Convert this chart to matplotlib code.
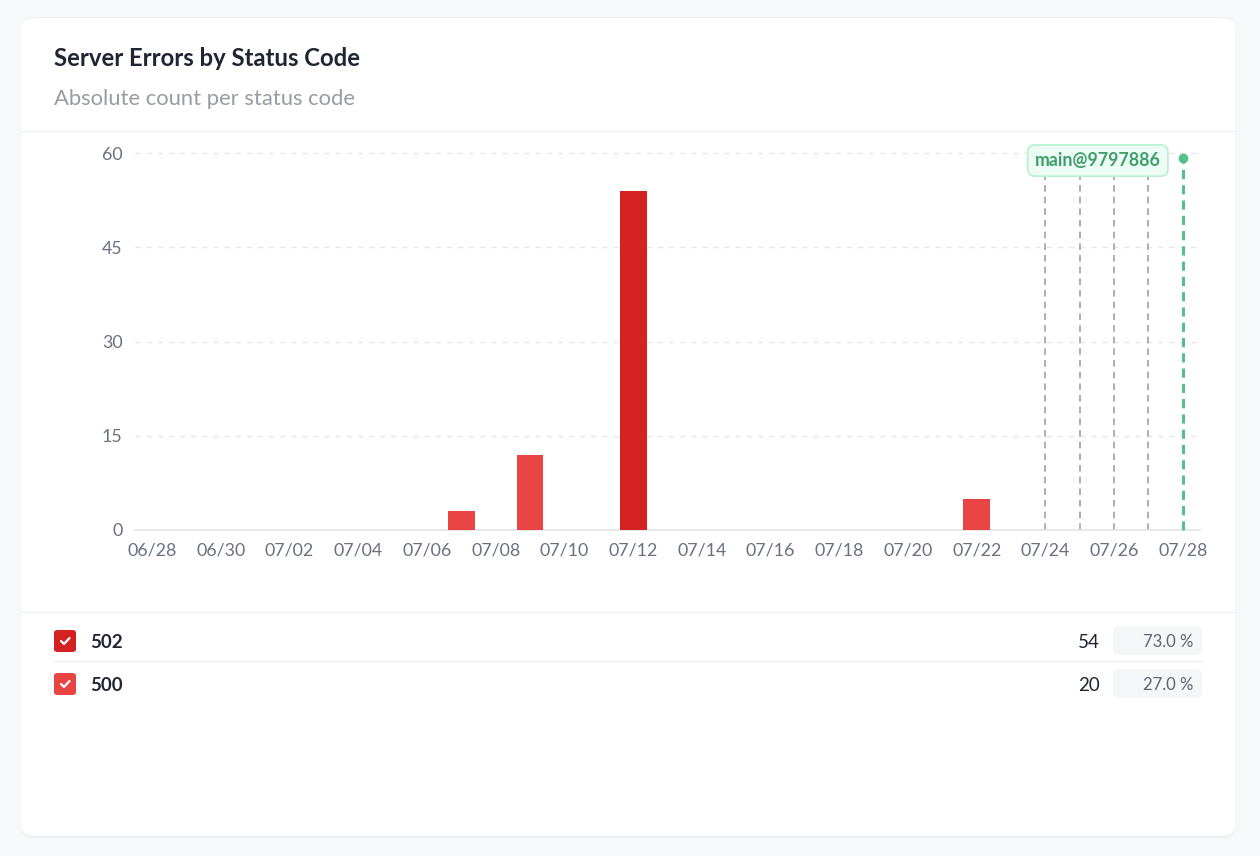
import numpy as np
import matplotlib
matplotlib.use("Agg")
import matplotlib.pyplot as plt
from matplotlib.patches import FancyBboxPatch
from matplotlib.lines import Line2D

plt.rcParams['font.family'] = ['Lato', 'DejaVu Sans']

# ------------------------------------------------------------
# data
# ------------------------------------------------------------
dias = ["06/28", "06/29", "06/30", "07/01", "07/02", "07/03", "07/04", "07/05",
        "07/06", "07/07", "07/08", "07/09", "07/10", "07/11", "07/12", "07/13",
        "07/14", "07/15", "07/16", "07/17", "07/18", "07/19", "07/20", "07/21",
        "07/22", "07/23", "07/24", "07/25", "07/26", "07/27", "07/28"]
erros_502 = [0, 0, 0, 0, 0, 0, 0, 0, 0, 0, 0, 0, 0, 0, 54, 0,
             0, 0, 0, 0, 0, 0, 0, 0, 0, 0, 0, 0, 0, 0, 0]
erros_500 = [0, 0, 0, 0, 0, 0, 0, 0, 0, 3, 0, 12, 0, 0, 0, 0,
             0, 0, 0, 0, 0, 0, 0, 0, 5, 0, 0, 0, 0, 0, 0]
deploys = ["07/24", "07/25", "07/26", "07/27"]
deploy_main = "07/28"
deploy_label = "main@9797886"
y_ticks = [0, 15, 30, 45, 60]

codigos = ["502", "500"]
totais = [sum(erros_502), sum(erros_500)]
cores = ["#d42222", "#e84444"]

W, H = 1260, 856


def fx(px):
    return px / W


def fy(py):
    return 1 - py / H


fig = plt.figure(figsize=(W / 100, H / 100), dpi=100)
fig.patch.set_facecolor("#f7f8fa")

# card + shadow
fig.patches.append(FancyBboxPatch((fx(22), fy(838)), fx(1213), 821 / H,
                                  boxstyle="round,pad=0,rounding_size=0.011",
                                  transform=fig.transFigure, fc="#eceef2", ec="none", zorder=0))
fig.patches.append(FancyBboxPatch((fx(22), fy(836)), fx(1213), 818 / H,
                                  boxstyle="round,pad=0,rounding_size=0.011",
                                  transform=fig.transFigure, fc="white", ec="none", zorder=0))

fig.text(fx(54), fy(59), "Server Errors by Status Code", fontsize=17.2, fontweight="bold",
         color="#1f2533", va="center", ha="left")
fig.text(fx(54), fy(99), "Absolute count per status code", fontsize=15.8,
         color="#9a9ca3", va="center", ha="left")

for y in [131, 612]:
    fig.add_artist(Line2D([fx(22), fx(1235)], [fy(y), fy(y)], color="#eceef1", lw=1,
                          transform=fig.transFigure))

# ------------------------------------------------------------
# chart
# ------------------------------------------------------------
ax = fig.add_axes([fx(135), fy(530), fx(1200 - 135), (530 - 153) / H])
ax.set_zorder(2)
ax.set_facecolor("none")
x = np.arange(len(dias))
ax.bar(x, erros_502, width=0.78, color=cores[0], zorder=3)
ax.bar(x, erros_500, width=0.78, color=cores[1], zorder=3, bottom=erros_502)

ax.set_xlim(-0.5, len(dias) - 0.5)
ax.set_ylim(0, 60)
ax.set_yticks(y_ticks)
ax.set_xticks(x[::2])
ax.set_xticklabels(dias[::2])
for s in ["top", "right", "left"]:
    ax.spines[s].set_visible(False)
ax.spines["bottom"].set_color("#e3e4ea")
ax.spines["bottom"].set_linewidth(1.2)
ax.tick_params(axis="both", length=0, labelsize=12.8, colors="#6b7080")
ax.tick_params(axis="y", pad=9)
ax.tick_params(axis="x", pad=9)
for t in y_ticks[1:]:
    ax.axhline(t, color="#e6e7eb", lw=1, ls=(0, (4, 4)), zorder=1, clip_on=False)

for d in deploys:
    ax.axvline(dias.index(d), color="#9ea1ab", lw=1.2, ls=(0, (4, 3)), zorder=2)
xm = dias.index(deploy_main)
ax.plot([xm, xm], [0, 59.2], color="#55c08a", lw=2.2, ls=(0, (3, 2)), zorder=4, clip_on=False)
ax.plot([xm], [59.2], "o", color="#55c08a", ms=6, zorder=5, clip_on=False)
ax.text(xm - 0.64, 58.8, deploy_label, ha="right", va="center", fontsize=12.8,
        fontweight="bold", color="#3f9e6c", zorder=6,
        bbox=dict(boxstyle="round,pad=0.4,rounding_size=0.4", fc="#edfdf5",
                  ec="#b6f0d2", lw=1.2))

# ------------------------------------------------------------
# legend rows
# ------------------------------------------------------------
linhas_y = [641, 684]
total = sum(totais)
for i, (cod, tot, cor) in enumerate(zip(codigos, totais, cores)):
    yc = linhas_y[i]
    fig.patches.append(FancyBboxPatch((fx(54), fy(yc + 11)), fx(22), 22 / H,
                                      boxstyle="round,pad=0,rounding_size=0.003",
                                      transform=fig.transFigure, fc=cor, ec="none"))
    fig.add_artist(Line2D([fx(61), fx(64), fx(69.5)], [fy(yc), fy(yc + 3), fy(yc - 3)],
                          color="white", lw=1.6, transform=fig.transFigure,
                          solid_capstyle="round"))
    fig.text(fx(90), fy(yc + 1.5), cod, fontsize=13.5, fontweight="bold", color="#1f2533",
             va="center", ha="left")
    fig.text(fx(1100), fy(yc + 1.5), str(tot), fontsize=13.5, color="#1f2533",
             va="center", ha="right")
    fig.patches.append(FancyBboxPatch((fx(1113), fy(yc + 14)), fx(89), 29 / H,
                                      boxstyle="round,pad=0,rounding_size=0.006",
                                      transform=fig.transFigure, fc="#f5f6f8", ec="none"))
    fig.text(fx(1193), fy(yc + 1), f"{tot / total * 100:.1f} %", fontsize=12,
             color="#5f6370", va="center", ha="right")
fig.add_artist(Line2D([fx(54), fx(1202)], [fy(661), fy(661)], color="#eceef1", lw=1,
                      transform=fig.transFigure))

fig.savefig("out.png", dpi=100, facecolor=fig.get_facecolor())
